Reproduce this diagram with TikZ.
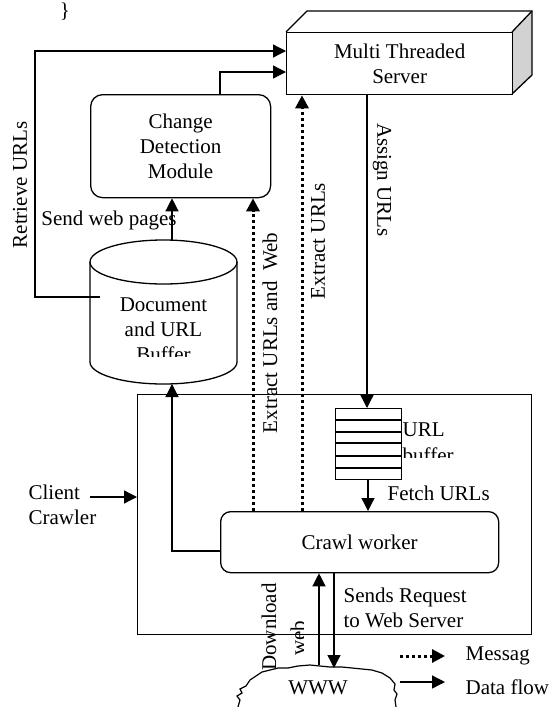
\documentclass[tikz,border=0pt]{standalone}
\usepackage{fontspec}
\setmainfont{Liberation Serif}
\usetikzlibrary{arrows.meta}
\begin{document}
\begin{tikzpicture}[x=1pt,y=-1pt, line width=1.3pt,
  >={Triangle[length=13pt,width=13pt]},
  lbl/.style={font=\fontsize{21}{25}\selectfont, inner sep=0pt},
  boxnode/.style={draw, line width=1.3pt, lbl, align=center, anchor=north west},
  flow/.style={->, line width=1.3pt},
  msg/.style={->, line width=3pt, dash pattern=on 3pt off 3pt}]
\useasboundingbox (0,0) rectangle (549,707);

% stray brace
\node[lbl] (brace) at (65,12) {\}};

% multi threaded server (3D box)
\fill[gray!35] (512,32) -- (532,11) -- (532,75) -- (512,94) -- cycle;
\draw (286,32) -- (307,11) -- (532,11) -- (532,75) -- (512,94);
\draw (512,32) -- (532,11);
\node[boxnode, minimum width=226pt, minimum height=62pt] (srv) at (286,32) {Multi Threaded\\Server};

% change detection module
\node[boxnode, rounded corners=12pt, minimum width=180pt, minimum height=103pt] (cdm) at (90,94) {Change\\Detection\\Module};

% cylinder
\draw (90,262) -- (90,362) arc[start angle=180, end angle=0, x radius=73.5, y radius=22] -- (237,262);
\draw (163.5,262) ellipse [x radius=73.5, y radius=22];
\begin{scope}
  \clip (90,286) rectangle (240,356);
  \node[lbl, align=center] (db) at (163.5,330) {Document\\and URL\\Buffer};
\end{scope}
\coordinate (dbtop) at (172,240);
\coordinate (dbbot) at (172,384);
\coordinate (dbleft) at (100,297);

% client crawler box
\node[draw, minimum width=394pt, minimum height=240pt, anchor=north west] (cc) at (137,394) {};

% URL buffer
\node[draw, minimum width=66pt, minimum height=71pt, anchor=north west, inner sep=0pt] (buf) at (335,408) {};
\foreach \yy in {420,432,443,456,468} \draw (335,\yy) -- (401,\yy);
\node[lbl, anchor=west] (urll) at (402,430) {URL};
\begin{scope}
  \clip (400,440) rectangle (480,457);
  \node[lbl, anchor=west] (bufl) at (402,455) {buffer};
\end{scope}

% crawl worker
\node[boxnode, rounded corners=10pt, minimum width=278pt, minimum height=61pt] (cw) at (220,511) {Crawl worker};

% WWW cloud
\draw[line width=1.2pt] (238,707) -- (240,700) -- (237,696) -- (242,693) -- (240,689) -- (246,686) -- (250,680) -- (256,676) -- (262,672) -- (270,670) -- (278,668) -- (288,668) -- (298,666) -- (310,665) -- (320,666) -- (330,667) -- (342,667) -- (352,668) -- (362,669) -- (372,670) -- (382,673) -- (390,678) -- (395,684) -- (394,690) -- (397,694) -- (395,700) -- (396,707);
\node[lbl] (www) at (318,688) {WWW};
\coordinate (wwwa) at (319,665);
\coordinate (wwwb) at (334,668);

% connectors
\coordinate (r1) at (35,51);
\draw[flow] (dbleft) -| (r1) -- (srv.west |- r1);
\coordinate (c1) at (220,72);
\draw[flow] (cdm.north -| c1) |- (srv.west |- c1);
\draw[flow] (dbtop) -- (cdm.south -| dbtop);
\coordinate (m1) at (253,0);
\coordinate (m2) at (302,0);
\draw[msg] (cw.north -| m1) -- (cdm.south -| m1);
\draw[msg] (cw.north -| m2) -- (srv.south -| m2);
\coordinate (a1) at (367,0);
\draw[flow] (srv.south -| a1) -- (buf.north -| a1);
\coordinate (f1) at (368,0);
\draw[flow] (buf.south -| f1) -- (cw.north -| f1);
\coordinate (fb) at (0,551);
\draw[flow] (cw.west |- fb) -| (dbbot);
\draw[flow] (wwwa) -- (cw.south -| wwwa);
\draw[flow] (cw.south -| wwwb) -- (wwwb);

% client crawler label
\node[lbl, align=left, anchor=west] (cl) at (28,505) {Client\\Crawler};
\coordinate (cla) at (90,497);
\draw[flow] (cla) -- (cc.west |- cla);

% labels
\node[lbl, rotate=90] (lret) at (20,185) {Retrieve URLs};
\node[lbl] (lsend) at (109,220) {Send web pages};
\node[lbl, rotate=90] (lext1) at (270,333) {Extract URLs and\ \ Web};
\node[lbl, rotate=90] (lext2) at (318,241) {Extract URLs};
\node[lbl, rotate=-90] (lass) at (382,180) {Assign URLs};
\node[lbl, anchor=west] (lfetch) at (387,493) {Fetch URLs};
\node[lbl, align=left, anchor=west] (lreq) at (343,608) {Sends Request\\to Web Server};
\node[lbl, rotate=90] (ldl) at (269,627) {Download};
\begin{scope}
  \clip (280,600) rectangle (303,680);
  \node[lbl, rotate=90] (lweb) at (298,638) {web};
\end{scope}

% legend
\coordinate (g1) at (400,656);
\coordinate (g2) at (445,656);
\coordinate (g3) at (400,682);
\coordinate (g4) at (445,682);
\draw[msg] (g1) -- (g2);
\draw[flow] (g3) -- (g4);
\node[lbl, anchor=west] (lmsg) at (465,656) {Messag};
\node[lbl, anchor=west] (ldf) at (465,687) {Data flow};
\end{tikzpicture}
\end{document}
